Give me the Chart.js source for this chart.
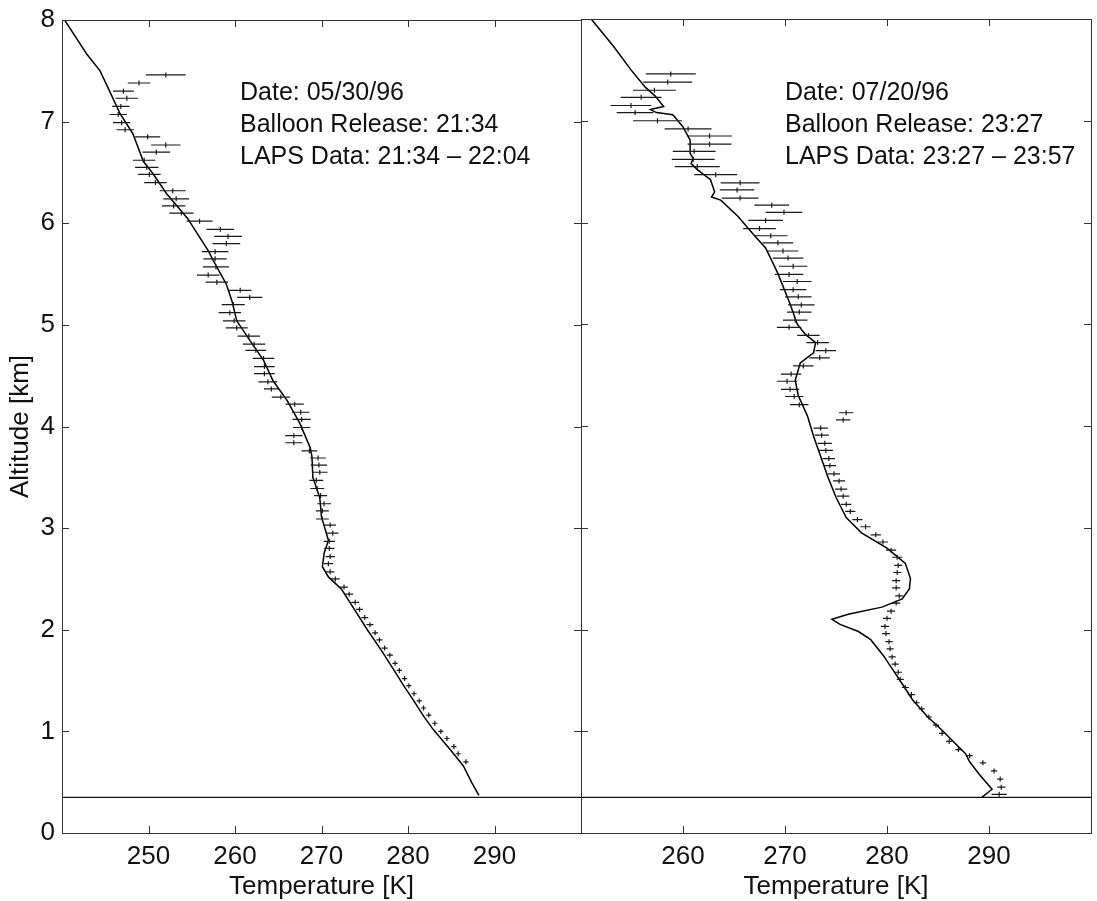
<!DOCTYPE html>
<html>
<head>
<meta charset="utf-8">
<script src="https://cdn.jsdelivr.net/npm/chart.js@4.4.1/dist/chart.umd.min.js"></script>
<style>
  body { margin: 0; background: #fff; }
  #wrap { position: relative; width: 1097px; height: 901px; overflow: hidden; }
  canvas { position: absolute; top: 0; }
</style>
</head>
<body>
<div id="wrap">
  <canvas id="leftPanel" width="600" height="901" style="left:0"></canvas>
  <canvas id="rightPanel" width="537" height="901" style="left:560px"></canvas>
</div>
<script>
// ---- data ----
const yTicks = [0, 1, 2, 3, 4, 5, 6, 7, 8];
const xTicksLeft = [250, 260, 270, 280, 290];
const xTicksRight = [260, 270, 280, 290];
const xRangeLeft = [240, 300];
const xRangeRight = [250, 300];
const groundAlt = 0.35;

const textLeft = ["Date: 05/30/96", "Balloon Release: 21:34", "LAPS Data: 21:34 \u2013 22:04"];
const textRight = ["Date: 07/20/96", "Balloon Release: 23:27", "LAPS Data: 23:27 \u2013 23:57"];

// balloon profile, 05/30/96
const leftLineAlt = [8.00, 7.66, 7.50, 7.30, 7.08, 6.88, 6.61, 6.49, 6.29, 6.05, 5.73, 5.60, 5.40, 5.22, 5.04, 4.85, 4.65, 4.45, 4.26, 4.03, 3.79, 3.70, 3.50, 3.30, 3.11, 2.88, 2.75, 2.62, 2.52, 2.40, 2.20, 2.00, 1.80, 1.60, 1.45, 1.31, 1.15, 1.02, 0.82, 0.66, 0.49, 0.37];
const leftLineTemp = [240.3, 242.9, 244.4, 245.5, 246.7, 248.2, 249.4, 250.5, 252.1, 254.5, 256.9, 257.7, 259.0, 259.7, 260.2, 261.7, 263.3, 264.4, 266.0, 267.5, 268.7, 268.9, 269.0, 269.8, 270.0, 270.8, 270.3, 270.1, 270.8, 272.3, 273.8, 275.3, 276.9, 278.4, 279.5, 280.6, 281.8, 282.9, 284.9, 286.4, 287.4, 288.2];

// LAPS retrievals, 05/30/96
const leftLapsAlt = [7.46, 7.38, 7.30, 7.23, 7.15, 7.07, 6.99, 6.92, 6.85, 6.77, 6.70, 6.62, 6.55, 6.48, 6.40, 6.32, 6.24, 6.17, 6.10, 6.02, 5.94, 5.87, 5.80, 5.72, 5.65, 5.57, 5.49, 5.42, 5.34, 5.27, 5.20, 5.12, 5.04, 4.97, 4.89, 4.81, 4.75, 4.67, 4.59, 4.52, 4.44, 4.37, 4.29, 4.22, 4.14, 4.07, 3.99, 3.91, 3.84, 3.76, 3.69, 3.62, 3.55, 3.47, 3.39, 3.32, 3.24, 3.17, 3.09, 3.03, 2.95, 2.87, 2.80, 2.72, 2.65, 2.57, 2.50, 2.42, 2.35, 2.27, 2.20, 2.12, 2.05, 1.97, 1.90, 1.82, 1.75, 1.67, 1.60, 1.52, 1.45, 1.37, 1.30, 1.23, 1.16, 1.08, 1.00, 0.93, 0.85, 0.78, 0.70];
const leftLapsTemp = [252.0, 248.9, 247.1, 247.5, 246.8, 246.5, 246.9, 247.3, 249.9, 252.0, 250.9, 249.5, 249.8, 250.1, 250.8, 252.8, 253.2, 252.9, 253.8, 255.9, 258.3, 259.2, 259.0, 257.7, 257.7, 257.8, 256.9, 257.9, 260.6, 261.7, 259.8, 259.4, 259.9, 260.2, 261.6, 262.2, 262.4, 263.3, 263.4, 263.4, 263.8, 264.2, 265.3, 266.9, 267.6, 267.7, 267.7, 266.8, 266.8, 268.6, 269.6, 269.7, 269.8, 269.4, 269.5, 269.9, 270.3, 270.1, 270.1, 271.0, 271.3, 270.9, 270.9, 271.0, 270.8, 271.0, 271.6, 272.6, 273.2, 273.9, 274.4, 275.0, 275.6, 276.2, 276.7, 277.3, 277.9, 278.5, 279.0, 279.6, 280.1, 280.7, 281.3, 281.8, 282.4, 283.1, 283.8, 284.5, 285.3, 285.8, 286.7];
const leftLapsErr = [2.3, 1.3, 1.2, 1.3, 1.0, 1.0, 1.0, 1.0, 1.45, 1.7, 1.6, 1.3, 1.35, 1.3, 1.3, 1.5, 1.5, 1.35, 1.4, 1.5, 1.6, 1.6, 1.6, 1.55, 1.35, 1.5, 1.3, 1.3, 1.3, 1.45, 1.33, 1.3, 1.3, 1.27, 1.3, 1.3, 1.2, 1.25, 1.2, 1.2, 1.1, 0.85, 1.05, 1.05, 1.0, 1.05, 1.0, 1.0, 1.0, 0.9, 0.9, 0.95, 0.9, 0.8, 0.8, 0.75, 0.8, 0.75, 0.75, 0.67, 0.65, 0.65, 0.6, 0.55, 0.55, 0.5, 0.5, 0.45, 0.45, 0.45, 0.4, 0.4, 0.4, 0.35, 0.35, 0.35, 0.35, 0.3, 0.3, 0.3, 0.3, 0.3, 0.3, 0.3, 0.3, 0.3, 0.3, 0.3, 0.3, 0.3, 0.3];

// balloon profile, 07/20/96
const rightLineAlt = [8.00, 7.73, 7.50, 7.33, 7.24, 7.14, 7.11, 7.08, 7.06, 6.94, 6.81, 6.68, 6.63, 6.58, 6.52, 6.42, 6.30, 6.25, 6.22, 6.06, 5.86, 5.75, 5.50, 5.20, 5.00, 4.90, 4.82, 4.72, 4.62, 4.45, 4.30, 4.10, 3.90, 3.70, 3.50, 3.30, 3.10, 2.95, 2.80, 2.65, 2.50, 2.40, 2.30, 2.22, 2.15, 2.10, 2.05, 1.98, 1.90, 1.75, 1.60, 1.45, 1.31, 1.14, 1.01, 0.91, 0.78, 0.70, 0.57, 0.43, 0.35];
const rightLineTemp = [251.0, 253.2, 254.9, 256.3, 257.3, 258.1, 256.8, 257.4, 259.0, 260.0, 260.7, 260.7, 261.0, 260.8, 261.4, 262.7, 263.1, 262.8, 263.7, 265.4, 267.1, 268.1, 269.3, 270.5, 271.2, 272.0, 273.0, 272.8, 271.5, 271.0, 271.3, 272.2, 272.8, 273.5, 274.2, 275.0, 276.0, 277.5, 280.0, 281.8, 282.3, 282.2, 281.5, 279.5, 276.2, 274.6, 275.4, 277.2, 278.4, 279.6, 280.6, 281.6, 282.5, 284.0, 285.4, 286.4, 287.7, 288.1, 289.1, 290.3, 289.3];

// LAPS retrievals, 07/20/96
const rightLapsAlt = [7.46, 7.38, 7.30, 7.23, 7.15, 7.08, 7.00, 6.92, 6.85, 6.77, 6.70, 6.62, 6.55, 6.47, 6.39, 6.32, 6.24, 6.17, 6.10, 6.02, 5.94, 5.87, 5.80, 5.72, 5.65, 5.57, 5.49, 5.42, 5.34, 5.27, 5.19, 5.12, 5.04, 4.97, 4.89, 4.82, 4.74, 4.67, 4.59, 4.51, 4.44, 4.36, 4.29, 4.21, 4.13, 4.06, 3.98, 3.91, 3.83, 3.76, 3.68, 3.61, 3.53, 3.46, 3.38, 3.31, 3.23, 3.16, 3.08, 3.01, 2.93, 2.86, 2.78, 2.71, 2.63, 2.56, 2.48, 2.41, 2.33, 2.26, 2.18, 2.11, 2.03, 1.96, 1.88, 1.81, 1.73, 1.66, 1.58, 1.51, 1.43, 1.36, 1.28, 1.22, 1.14, 1.06, 0.98, 0.90, 0.82, 0.76, 0.69, 0.61, 0.53, 0.45, 0.38];
const rightLapsTemp = [258.8, 258.5, 257.2, 255.9, 254.9, 255.3, 257.5, 260.5, 262.6, 262.6, 261.1, 261.0, 261.4, 263.2, 265.6, 265.3, 265.6, 268.7, 269.9, 268.1, 267.5, 268.6, 269.3, 269.8, 270.3, 270.8, 270.4, 271.2, 270.8, 271.3, 271.6, 271.4, 271.0, 270.4, 272.3, 273.2, 274.0, 273.4, 271.8, 270.6, 270.2, 270.5, 270.9, 271.4, 276.0, 275.7, 273.5, 273.6, 273.9, 274.0, 274.3, 274.4, 274.8, 275.3, 275.5, 275.7, 276.0, 276.4, 277.1, 277.9, 278.9, 279.6, 280.4, 281.0, 281.1, 281.0, 280.9, 280.9, 281.2, 280.9, 280.4, 280.0, 279.8, 279.9, 280.2, 280.3, 280.5, 280.8, 281.1, 281.3, 281.8, 282.4, 282.9, 283.4, 284.1, 284.8, 285.4, 286.1, 287.0, 288.1, 289.4, 290.5, 291.1, 291.2, 291.0];
const rightLapsErr = [2.45, 2.4, 2.1, 2.0, 2.0, 1.8, 2.4, 2.3, 2.2, 2.15, 2.1, 2.1, 2.2, 2.1, 1.9, 1.7, 1.8, 1.7, 1.8, 1.7, 1.6, 1.65, 1.5, 1.5, 1.5, 1.4, 1.4, 1.4, 1.3, 1.3, 1.3, 1.2, 1.2, 1.2, 1.1, 1.1, 1.0, 1.0, 1.0, 1.0, 1.0, 0.9, 0.9, 0.9, 0.7, 0.7, 0.7, 0.7, 0.7, 0.7, 0.6, 0.6, 0.6, 0.6, 0.6, 0.6, 0.5, 0.5, 0.5, 0.5, 0.5, 0.5, 0.5, 0.5, 0.4, 0.4, 0.4, 0.4, 0.4, 0.4, 0.4, 0.4, 0.4, 0.4, 0.35, 0.35, 0.35, 0.35, 0.35, 0.35, 0.35, 0.35, 0.3, 0.3, 0.3, 0.3, 0.3, 0.3, 0.3, 0.3, 0.3, 0.3, 0.3, 0.4, 0.75];

// ---- drawing ----
const FONT = "'Liberation Sans', Arial, Helvetica, sans-serif";
const INK = "#111";

// horizontal error bars plus a small vertical tick at each LAPS point
const errorBars = {
    id: "errorBars",
    afterDatasetsDraw(chart) {
        const ds = chart.data.datasets[1];
        const meta = chart.getDatasetMeta(1);
        const xs = chart.scales.x;
        const ctx = chart.ctx;
        ctx.save();
        ctx.strokeStyle = "#1a1a1a";
        ctx.lineWidth = 1.2;
        ctx.beginPath();
        ds.data.forEach((p, i) => {
            const el = meta.data[i];
            ctx.moveTo(xs.getPixelForValue(p.x - p.err), el.y);
            ctx.lineTo(xs.getPixelForValue(p.x + p.err), el.y);
            ctx.moveTo(el.x, el.y - 2.5);
            ctx.lineTo(el.x, el.y + 2.5);
        });
        ctx.stroke();
        ctx.restore();
    }
};

// box around the plot and inward ticks on all four sides
const frame = {
    id: "frame",
    afterDraw(chart, args, opts) {
        const { ctx, chartArea: a } = chart;
        const xs = chart.scales.x, ys = chart.scales.y;
        const len = 7;
        ctx.save();
        ctx.strokeStyle = "#333";
        ctx.lineWidth = 1;
        ctx.strokeRect(a.left + 0.5, a.top + 0.5, a.right - a.left, a.bottom - a.top);
        ctx.beginPath();
        opts.xTicks.forEach(v => {
            const px = Math.round(xs.getPixelForValue(v)) + 0.5;
            ctx.moveTo(px, a.bottom); ctx.lineTo(px, a.bottom - len);
            ctx.moveTo(px, a.top); ctx.lineTo(px, a.top + len);
        });
        yTicks.forEach(v => {
            const py = Math.round(ys.getPixelForValue(v)) + 0.5;
            ctx.moveTo(a.left, py); ctx.lineTo(a.left + len, py);
            ctx.moveTo(a.right, py); ctx.lineTo(a.right - len, py);
        });
        ctx.stroke();
        ctx.restore();
    }
};

// date / release / LAPS window notes
const notes = {
    id: "notes",
    afterDraw(chart, args, opts) {
        const ctx = chart.ctx;
        ctx.save();
        ctx.fillStyle = INK;
        ctx.font = "25px " + FONT;
        ctx.textBaseline = "alphabetic";
        opts.lines.forEach((t, i) => ctx.fillText(t, opts.left, opts.top + i * 32));
        ctx.restore();
    }
};

function makePanel(id, p) {
    const lineData = p.lineAlt.map((z, i) => ({ x: p.lineTemp[i], y: z }));
    const lapsData = p.lapsAlt.map((z, i) => ({ x: p.lapsTemp[i], y: z, err: p.lapsErr[i] }));
    const ground = [{ x: p.xRange[0], y: groundAlt }, { x: p.xRange[1], y: groundAlt }];

    return new Chart(document.getElementById(id), {
        type: "scatter",
        data: {
            datasets: [
                { data: lineData, showLine: true, borderColor: "#000", borderWidth: 1.5, pointRadius: 0, tension: 0 },
                { data: lapsData, showLine: false, pointRadius: 0 },
                { data: ground, showLine: true, borderColor: "#111", borderWidth: 1.3, pointRadius: 0 }
            ]
        },
        options: {
            responsive: false,
            animation: false,
            devicePixelRatio: 1,
            layout: { padding: p.padding },
            plugins: {
                legend: { display: false },
                tooltip: { enabled: false },
                frame: { xTicks: p.xTicks },
                notes: { lines: p.text, left: p.textLeft, top: 100 }
            },
            scales: {
                x: {
                    type: "linear",
                    min: p.xRange[0],
                    max: p.xRange[1],
                    afterBuildTicks: s => { s.ticks = p.xTicks.map(v => ({ value: v })); },
                    afterFit: s => { s.height = 68; },
                    grid: { display: false, drawTicks: false },
                    border: { display: false },
                    ticks: { color: INK, font: { family: FONT, size: 26 }, padding: 8, maxRotation: 0 },
                    title: {
                        display: true, text: "Temperature [K]", color: INK,
                        font: { family: FONT, size: 26, lineHeight: 1 }, padding: { top: 0, bottom: 1 }
                    }
                },
                y: {
                    type: "linear",
                    min: 0,
                    max: 8,
                    display: p.showY,
                    afterBuildTicks: s => { s.ticks = yTicks.map(v => ({ value: v })); },
                    afterFit: s => { s.width = p.showY ? 62 : 0; },
                    grid: { display: false, drawTicks: false },
                    border: { display: false },
                    ticks: { color: INK, font: { family: FONT, size: 26, lineHeight: 1 }, padding: 7 },
                    title: {
                        display: true, text: "Altitude [km]", color: INK,
                        font: { family: FONT, size: 26, lineHeight: 1 }, padding: { top: 8, bottom: 0 }
                    }
                }
            }
        },
        plugins: [errorBars, frame, notes]
    });
}

makePanel("leftPanel", {
    lineAlt: leftLineAlt, lineTemp: leftLineTemp,
    lapsAlt: leftLapsAlt, lapsTemp: leftLapsTemp, lapsErr: leftLapsErr,
    xRange: xRangeLeft, xTicks: xTicksLeft, showY: true,
    text: textLeft, textLeft: 240,
    padding: { left: 0, right: 19, top: 19, bottom: 0 }
});

makePanel("rightPanel", {
    lineAlt: rightLineAlt, lineTemp: rightLineTemp,
    lapsAlt: rightLapsAlt, lapsTemp: rightLapsTemp, lapsErr: rightLapsErr,
    xRange: xRangeRight, xTicks: xTicksRight, showY: false,
    text: textRight, textLeft: 225,
    padding: { left: 21, right: 6, top: 19, bottom: 0 }
});
</script>
</body>
</html>
